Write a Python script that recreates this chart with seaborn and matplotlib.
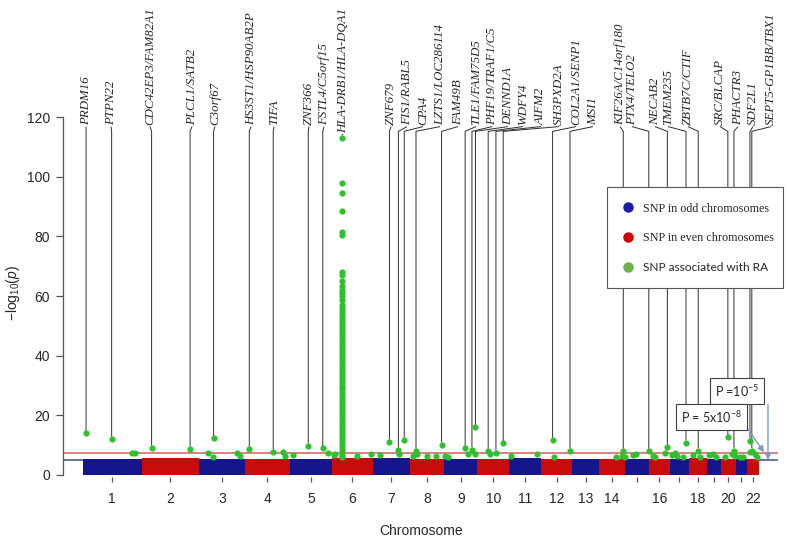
"""
Manhattan plot of RA-associated SNPs (recreation)
"""
import numpy as np
import pandas as pd
import matplotlib
matplotlib.use('Agg')  # no display
import matplotlib.pyplot as plt
from matplotlib.lines import Line2D
import seaborn as sns

# chromosome lengths (Mb) and the rough top of the dense SNP band per chromosome
CHROM_LEN = [249.3, 243.2, 198.0, 191.2, 180.9, 171.1, 159.1, 146.4, 141.2, 135.5, 135.0,
             133.9, 115.2, 107.3, 102.5, 90.4, 81.2, 78.1, 59.1, 63.0, 48.1, 51.3]
BAND_TOP = [5.4, 5.6, 5.4, 5.5, 5.5, 5.6, 5.6, 5.4, 5.5, 5.4, 5.6,
            5.5, 5.3, 5.4, 5.5, 5.5, 5.4, 5.6, 5.3, 5.5, 5.3, 5.4]
TICK_LABELS = ['1', '2', '3', '4', '5', '6', '7', '8', '9', '10', '11',
               '12', '13', '14', '', '16', '', '18', '', '20', '', '22']

# lead SNPs with gene labels
LEAD_GENE = ['PRDM16', 'PTPN22', 'CDC42EP3/FAM82A1', 'PLCL1/SATB2', 'C3orf67',
             'HS3ST1/HSP90AB2P', 'TIFA', 'ZNF366', 'FSTL4/C5orf15', 'HLA-DRB1/HLA-DQA1',
             'ZNF679', 'FIS1/RABL5', 'CPA4', 'LZTS1/LOC286114', 'FAM49B',
             'TLE1/FAM75D5', 'PHF19/TRAF1/C5', 'DENND1A', 'WDFY4', 'AIFM2',
             'SH3PXD2A', 'COL2A1/SENP1', 'MSI1', 'KIF26A/C14orf180', 'PTX4/TELO2',
             'NECAB2', 'TMEM235', 'ZBTB7C/CTIF', 'SRC/BLCAP', 'PHACTR3',
             'SDF2L1', 'SEPT5-GP1BB/TBX1']
LEAD_CHR = [1, 1, 2, 2, 3, 4, 4, 5, 5, 6, 7, 7, 7, 8, 8, 9, 9, 9, 10, 10,
            10, 12, 12, 14, 16, 16, 17, 18, 20, 20, 22, 22]
LEAD_POS = [13, 122, 43, 207, 64, 18, 120, 78, 140, 41, 72, 110, 135, 26, 135, 89,
            118, 133, 46, 79, 110, 50, 124, 102, 1, 80, 69, 40, 29, 55, 12, 20]
LEAD_LOGP = [14.0, 12.1, 9.0, 8.7, 12.3, 8.6, 7.8, 9.7, 8.9, 113.0, 11.1, 8.4, 11.7,
             8.0, 10.1, 8.9, 8.4, 16.0, 8.0, 7.5, 10.6, 11.7, 8.0, 8.0, 8.0, 9.3,
             10.8, 8.2, 12.6, 8.2, 11.4, 8.2]

# other associated SNPs (green, unlabelled)
HIT_CHR = [1, 1, 3, 3, 3, 3, 4, 4, 5, 5, 6, 6, 6, 6, 7, 7, 8, 8, 8, 8, 9, 9, 9, 9,
           10, 11, 11, 12, 14, 14, 15, 15, 15, 16, 16, 16, 17, 17, 17, 17, 18, 18,
           19, 19, 19, 20, 20, 20, 21, 21, 22, 22, 22]
HIT_POS = [207, 222, 41, 63, 162, 176, 163, 170, 14, 164, 5, 13, 106, 163, 32, 111,
           29, 12, 72, 111, 3, 17, 103, 131, 54, 6, 117, 57, 95, 71, 2, 37, 48,
           20, 27, 70, 22, 32, 58, 9, 19, 47, 9, 23, 37, 45, 59, 17, 18, 32, 12, 34, 41]
HIT_LOGP = [7.3, 7.5, 7.3, 5.9, 7.5, 6.4, 7.6, 6.4, 6.7, 7.3, 6.7, 7.0, 6.4, 7.0,
            6.7, 7.0, 7.0, 6.4, 6.4, 6.4, 6.4, 5.9, 7.0, 7.0, 7.0, 6.4, 7.0, 5.9,
            6.4, 6.0, 5.9, 6.7, 7.0, 6.4, 5.9, 7.3, 7.5, 6.4, 5.9, 6.8, 6.7, 6.0,
            6.7, 7.0, 6.2, 7.0, 6.4, 6.0, 5.9, 5.9, 7.8, 7.0, 5.9]

# the MHC column on chromosome 6
MHC_POS = 41
MHC_LOGP = [98.0, 94.5, 88.5, 81.5, 80.5, 68.0, 67.0, 65.0, 63.5, 62.0, 61.0, 60.0,
            58.5, 57.0, 56.0, 55.0, 54.0, 53.0, 52.0, 51.0, 50.0, 49.0, 48.0, 47.0,
            46.0, 45.0, 44.0, 43.0, 42.0, 41.0, 40.0, 39.0, 38.0, 37.0, 36.0, 35.0,
            34.0, 33.0, 32.0, 31.0, 30.0, 29.0, 28.0, 27.0, 26.0, 25.0, 24.0, 23.0,
            22.0, 21.0, 20.0, 19.0, 18.0, 17.0, 16.0, 15.0, 14.0, 13.0, 12.0, 11.0,
            10.0, 9.0, 8.0, 7.0, 6.5, 6.0]

THRESH_SUGGEST = 5.0            # P = 1e-5
THRESH_GENOME = -np.log10(5e-8)  # P = 5e-8

# label text x positions (figure pixels)
LABEL_PX = [86, 111, 150, 192, 215, 251, 274, 309, 324, 343, 391, 407, 423, 440, 458,
            476, 492, 508, 523, 541, 559, 576, 593, 620, 632, 655, 668, 688, 720, 738,
            753, 771]

NAVY = '#16168c'
RED = '#c80b0b'
GREEN = '#2fbf2f'

sns.set_style('ticks')
plt.rcParams['font.family'] = ['Liberation Sans', 'DejaVu Sans']
plt.rcParams['mathtext.fontset'] = 'custom'
plt.rcParams['mathtext.rm'] = 'Liberation Sans'
plt.rcParams['mathtext.it'] = 'Liberation Sans:italic'

W, H = 787, 537
fig = plt.figure(figsize=(W / 100, H / 100), dpi=100)
ax = fig.add_axes([63 / W, 60 / H, 724 / W, 477 / H])

starts = np.concatenate([[0], np.cumsum(CHROM_LEN)[:-1]])
mids = starts + np.array(CHROM_LEN) / 2
chr_start = dict(zip(range(1, 23), starts))

# dense background SNP band
band_colors = [NAVY if (i % 2 == 0) else RED for i in range(22)]
ax.bar(starts, BAND_TOP, width=CHROM_LEN, align='edge', color=band_colors,
       linewidth=0, zorder=2)

# threshold lines
ax.hlines([THRESH_GENOME], -85, 2961, color='#d46a6a', lw=1.2, zorder=1)
ax.hlines([THRESH_SUGGEST], -85, 2961, color='#4a5f8f', lw=1.2, zorder=1)

# associated SNPs
lead = pd.DataFrame({'chr': LEAD_CHR, 'pos': LEAD_POS, 'logp': LEAD_LOGP, 'gene': LEAD_GENE})
lead['x'] = [chr_start[c] + p for c, p in zip(lead['chr'], lead['pos'])]
hits = pd.DataFrame({'chr': HIT_CHR, 'pos': HIT_POS, 'logp': HIT_LOGP})
mhc = pd.DataFrame({'chr': 6, 'pos': MHC_POS, 'logp': MHC_LOGP})
hits = pd.concat([hits, mhc], ignore_index=True)
hits['x'] = [chr_start[c] + p for c, p in zip(hits['chr'], hits['pos'])]
allhits = pd.concat([hits[['x', 'logp']], lead[['x', 'logp']]], ignore_index=True)

sns.scatterplot(data=allhits, x='x', y='logp', color=GREEN, s=20, linewidth=0,
                ax=ax, zorder=3, legend=False)

ax.set_xlim(-20 / 0.2347, 704 / 0.2347)
ax.set_ylim(-2 / 2.983, 475 / 2.983)

# gene labels with connector lines
to_data = ax.transData.inverted()
for (_, row), lpx in zip(lead.iterrows(), LABEL_PX):
    lx = to_data.transform(fig.transFigure.transform((lpx / W, 0)))[0]
    v = row['logp']
    if v < 100:
        kink_lo, kink_hi, base = 115.2, 116.8, 117.2
    else:
        # the MHC peak reaches the label row: short stub straight up
        kink_lo, kink_hi, base = v + 1.0, v + 1.3, v + 1.5
    ax.plot([row['x'], row['x'], lx], [v + 0.8, kink_lo, kink_hi],
            color='#2e2e2e', lw=0.7, zorder=1, solid_capstyle='butt')
    ax.text(lx, base, row['gene'], rotation=90, ha='center', va='bottom',
            family=['Liberation Serif'], style='italic', fontsize=9.3, clip_on=False)

# axes styling
for side in ['top', 'right', 'bottom']:
    ax.spines[side].set_visible(False)
ax.spines['left'].set_bounds(0, 120)
ax.spines['left'].set_color('#555555')
ax.spines['left'].set_linewidth(0.9)
ax.set_yticks(np.arange(0, 121, 20))
ax.set_xticks(mids)
ax.set_xticklabels(TICK_LABELS)
ax.tick_params(axis='y', length=5, width=0.9, pad=4.3, labelsize=10, color='#555555')
ax.tick_params(axis='x', length=3.6, width=0.9, pad=7.5, labelsize=10, color='#555555')
ax.set_xlabel('')
ax.set_ylabel('')
ax.grid(False)
ax.set_facecolor('none')

fig.text(13 / W, 1 - 293 / H, r'$\mathrm{-log_{10}(}\mathit{p}\mathrm{)}$', rotation=90,
         ha='center', va='center', fontsize=10)
fig.text(421 / W, 1 - 531 / H, 'Chromosome', ha='center', va='center', fontsize=10)

# legend
handles = [Line2D([], [], marker='o', ls='', color='#1c1ca8', markersize=6.5),
           Line2D([], [], marker='o', ls='', color='#cc0000', markersize=6.5),
           Line2D([], [], marker='o', ls='', color='#6cb24a', markersize=6.5)]
labels = ['SNP in odd chromosomes', 'SNP in even chromosomes', 'SNP associated with RA']
leg = fig.legend(handles, labels, loc='upper left',
                 bbox_to_anchor=(607 / W, 1 - 187 / H, 176 / W, 0), mode='expand',
                 frameon=True, fancybox=False, edgecolor='#555555', framealpha=1,
                 borderpad=1.3, labelspacing=1.45, handlelength=0.8, handletextpad=0.9,
                 borderaxespad=0, prop={'family': 'Liberation Serif', 'size': 8.7})
leg.get_frame().set_linewidth(0.8)
leg.get_texts()[2].set_fontfamily(['Lato', 'DejaVu Sans'])
leg.get_texts()[2].set_fontsize(8.6)

# threshold annotations
box = dict(boxstyle='square,pad=0.4', fc='white', ec='#404040', lw=0.8)
fig.text(736.7 / W, 1 - 390.8 / H, r'P =10$\mathregular{^{-5}}$', ha='center', va='center',
         fontsize=9, family=['Lato', 'DejaVu Sans'], bbox=box)
fig.text(711.2 / W, 1 - 417.4 / H, r'P = 5x10$\mathregular{^{-8}}$', ha='center', va='center',
         fontsize=9, family=['Lato', 'DejaVu Sans'], bbox=box)
arrow = dict(arrowstyle='-|>', color='#7d9bc8', lw=1.0, mutation_scale=9, shrinkA=0, shrinkB=0)
ax.annotate('', xy=(2918.6, THRESH_SUGGEST), xytext=(2918.6, 23.8), arrowprops=arrow)
ax.annotate('', xy=(2901.6, THRESH_GENOME + 0.3), xytext=(2833.4, 15.4), arrowprops=arrow)

plt.savefig('out.png', dpi=100)
plt.close()
